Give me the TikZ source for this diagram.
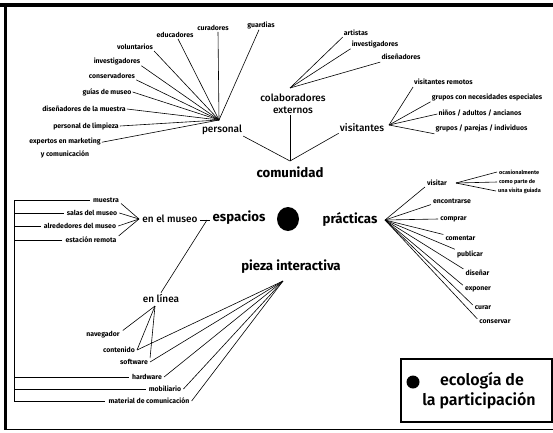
\documentclass[tikz,border=0pt]{standalone}
\usepackage{fontspec}
\usetikzlibrary{shapes.geometric}
\setmainfont{Fira Sans}
\newfontfamily\boldfont{Fira Sans Bold}
\newfontfamily\heavyfont{Fira Sans SemiBold}
\newfontfamily\semifont{Fira Sans Medium}
\begin{document}
\begin{tikzpicture}[x=1pt,y=-1pt,
  lbl/.style={font=\boldfont\fontsize{6.9}{8}\selectfont, inner sep=1pt},
  tinylbl/.style={font=\boldfont\fontsize{5.5}{6.5}\selectfont, inner sep=1pt, anchor=west},
  midlbl/.style={font=\semifont\fontsize{10}{12}\selectfont, inner sep=1pt},
  mainlbl/.style={font=\boldfont\fontsize{13.2}{15}\selectfont, inner sep=1pt},
  link/.style={draw=black, line width=0.6pt},
  frame/.style={draw=black}]
\useasboundingbox (0,0) rectangle (553,432);

% outer frame (open on the right)
\draw[frame, line width=3.5pt] (0,5) -- (553,5);
\draw[frame, line width=2.5pt] (5.5,3.5) -- (5.5,429.5);
\draw[frame, line width=1.6pt] (4.5,429.5) -- (553,429.5);

% ---------- comunidad ----------
\node[mainlbl] (comunidad) at (290,172) {comunidad};
\coordinate (cv) at (290,161);

% personal
\node[midlbl] (personal) at (222,130) {personal};
\coordinate (ph) at (219,120);
\node[lbl] (guardias) at (261,25) {guardias};
\node[lbl] (curadores) at (213,28) {curadores};
\node[lbl] (educadores) at (175,35) {educadores};
\node[lbl] (voluntarios) at (135,47) {voluntarios};
\node[lbl] (invA) at (117,61) {investigadores};
\node[lbl] (conservadores) at (112,76) {conservadores};
\node[lbl] (guias) at (107,92) {guías de museo};
\node[lbl] (disA) at (84,109) {diseñadores de la muestra};
\node[lbl] (limpieza) at (86,126) {personal de limpieza};
\node[lbl, align=center, font=\boldfont\fontsize{6.9}{13}\selectfont] (expertos) at (65,147.5) {expertos en marketing\\y comunicación};

\draw[link] (ph) -- ([xshift=-2pt]guardias.south);
\draw[link] (ph) -- ([xshift=5pt]curadores.south);
\draw[link] (ph) -- ([xshift=3pt]educadores.south);
\draw[link] (ph) -- (voluntarios.south east);
\draw[link] (ph) -- (invA.south east);
\draw[link] (ph) -- (conservadores.south east);
\draw[link] (ph) -- (guias.east);
\draw[link] (ph) -- (disA.east);
\draw[link] (ph) -- (limpieza.east);
\draw[link] (ph) -- ([yshift=-6pt]expertos.north east);

% colaboradores externos
\node[midlbl, align=center] (colab) at (293,104) {colaboradores\\externos};
\coordinate (ch) at (290,88);
\node[lbl] (artistas) at (356,33) {artistas};
\node[lbl] (invB) at (375,44) {investigadores};
\node[lbl] (disB) at (401,57) {diseñadores};
\draw[link] (ch) -- (artistas.south west);
\draw[link] (ch) -- (invB.south west);
\draw[link] (ch) -- ([yshift=-1pt]disB.south west);

% visitantes
\node[midlbl] (visitantes) at (362,128) {visitantes};
\coordinate (vh) at (389,125);
\node[lbl] (remotos) at (443.5,82) {visitantes remotos};
\node[lbl] (necesidades) at (487,97) {grupos con necesidades especiales};
\node[lbl] (edades) at (480,113) {niños / adultos / ancianos};
\node[lbl] (grupos) at (481.5,128) {grupos / parejas / individuos};
\draw[link] (vh) -- ([yshift=-1pt]remotos.south west);
\draw[link] (vh) -- (necesidades.south west);
\draw[link] (vh) -- ([yshift=-1pt]edades.west);
\draw[link] (vh) -- ([yshift=-1pt]grupos.south west);

% links to comunidad
\draw[link] (personal.south east) -- (cv);
\draw[link] (colab.south -| cv) -- (cv);
\draw[link] (visitantes.south west) -- (cv);

% ---------- centre ----------
\node[mainlbl] (espacios) at (239,218) {espacios};
\node[fill=black, ellipse, minimum width=22pt, minimum height=24pt, inner sep=0pt] (dot) at (288,219) {};
\node[mainlbl] (practicas) at (350,219) {prácticas};
\node[mainlbl] (pieza) at (291,267) {pieza interactiva};

% ---------- espacios ----------
\node[midlbl] (museo) at (170,219) {en el museo};
\node[midlbl] (enlinea) at (161,298) {en línea};
\coordinate (ej) at (207,220);
\draw[link] ([xshift=1pt]museo.east |- ej) -- ([xshift=-1pt]espacios.west |- ej);
\draw[link] (enlinea.north) -- (ej);

\coordinate (mh) at (139,219);
\node[lbl] (muestra) at (106,200) {muestra};
\node[lbl] (salas) at (92,213) {salas del museo};
\node[lbl] (alrededores) at (80,226) {alrededores del museo};
\node[lbl] (estacion) at (91,240) {estación remota};
\draw[link] ([xshift=1pt]muestra.south east) -- (mh);
\draw[link] ([xshift=1pt]salas.east) -- (mh);
\draw[link] ([xshift=1pt]alrededores.east) -- (mh);
\draw[link] ([xshift=1pt]estacion.north east) -- (mh);

% online parts and physical parts
\coordinate (lh) at (155,306);
\coordinate (pzh) at (283,281);
\node[lbl] (navegador) at (103,335) {navegador};
\node[lbl] (contenido) at (119,350) {contenido};
\node[lbl] (software) at (134,362) {software};
\node[lbl] (hardware) at (147,377) {hardware};
\node[lbl] (mobiliario) at (165,389) {mobiliario};
\node[lbl] (material) at (149,401) {material de comunicación};
\draw[link] (lh) -- ([xshift=2pt]navegador.north east);
\draw[link] (lh) -- ([xshift=1pt]contenido.east);
\draw[link] (lh) -- ([xshift=1pt]software.north east);
\draw[link] (pzh) -- ([xshift=1pt]contenido.east);
\draw[link] (pzh) -- ([xshift=1pt]software.east);
\draw[link] (pzh) -- ([xshift=1pt]hardware.east);
\draw[link] (pzh) -- ([xshift=1pt]mobiliario.east);
\draw[link] (pzh) -- ([xshift=1pt]material.east);

% bracket on the left margin
\coordinate (bx) at (14,0);
\draw[link] ([xshift=-2pt]muestra.west) -- (muestra.west -| bx) -- (material.west -| bx) -- ([xshift=-2pt]material.west);
\draw[link] ([xshift=-2pt]salas.west) -- (salas.west -| bx);
\draw[link] ([xshift=-2pt]alrededores.west) -- (alrededores.west -| bx);
\draw[link] ([xshift=-2pt]estacion.west) -- (estacion.west -| bx);
\draw[link] ([xshift=-2pt]hardware.west) -- (hardware.west -| bx);
\draw[link] ([xshift=-2pt]mobiliario.west) -- (mobiliario.west -| bx);

% ---------- prácticas ----------
\coordinate (prh) at (385,220);
\node[lbl] (visitar) at (437,183) {visitar};
\node[lbl] (encontrarse) at (452,201) {encontrarse};
\node[lbl] (comprar) at (453.5,219) {comprar};
\node[lbl] (comentar) at (460.5,238) {comentar};
\node[lbl] (publicar) at (470,254) {publicar};
\node[lbl] (disenar) at (477.5,273) {diseñar};
\node[lbl] (exponer) at (478,289) {exponer};
\node[lbl] (curar) at (483,308) {curar};
\node[lbl] (conservar) at (495,322) {conservar};
\draw[link] (prh) -- ([xshift=-1pt]visitar.south west);
\draw[link] (prh) -- ([xshift=-1pt]encontrarse.south west);
\draw[link] (prh) -- ([xshift=-1pt]comprar.west);
\draw[link] (prh) -- ([xshift=-1pt]comentar.north west);
\draw[link] (prh) -- ([xshift=-1pt]publicar.north west);
\draw[link] (prh) -- ([xshift=-1pt]disenar.north west);
\draw[link] (prh) -- ([xshift=-1pt]exponer.north west);
\draw[link] (prh) -- ([xshift=-1pt]curar.north west);
\draw[link] (prh) -- ([xshift=-1pt]conservar.north west);

\coordinate (vth) at (456,183);
\node[tinylbl] (ocasional) at (498,172) {ocasionalmente};
\node[tinylbl] (como) at (498,182) {como parte de};
\node[tinylbl] (guiada) at (497,191) {una visita guiada};
\draw[link] (vth) -- ([xshift=-1pt]ocasional.west);
\draw[link] (vth) -- ([xshift=-1pt]como.west);
\draw[link] (vth) -- ([xshift=-1pt]guiada.west);

% ---------- legend ----------
\node[draw=black, line width=2pt, minimum width=151pt, minimum height=63pt, inner sep=0pt] (legend) at (476,390.5) {};
\node[fill=black, circle, minimum size=13pt, inner sep=0pt] (legdot) at (413,382) {};
\node[font=\heavyfont\fontsize{16}{19}\selectfont, inner sep=0pt] (legA) at (482,381) {ecología de};
\node[font=\heavyfont\fontsize{16}{19}\selectfont, inner sep=0pt] (legB) at (479,401) {la participación};
\end{tikzpicture}
\end{document}
